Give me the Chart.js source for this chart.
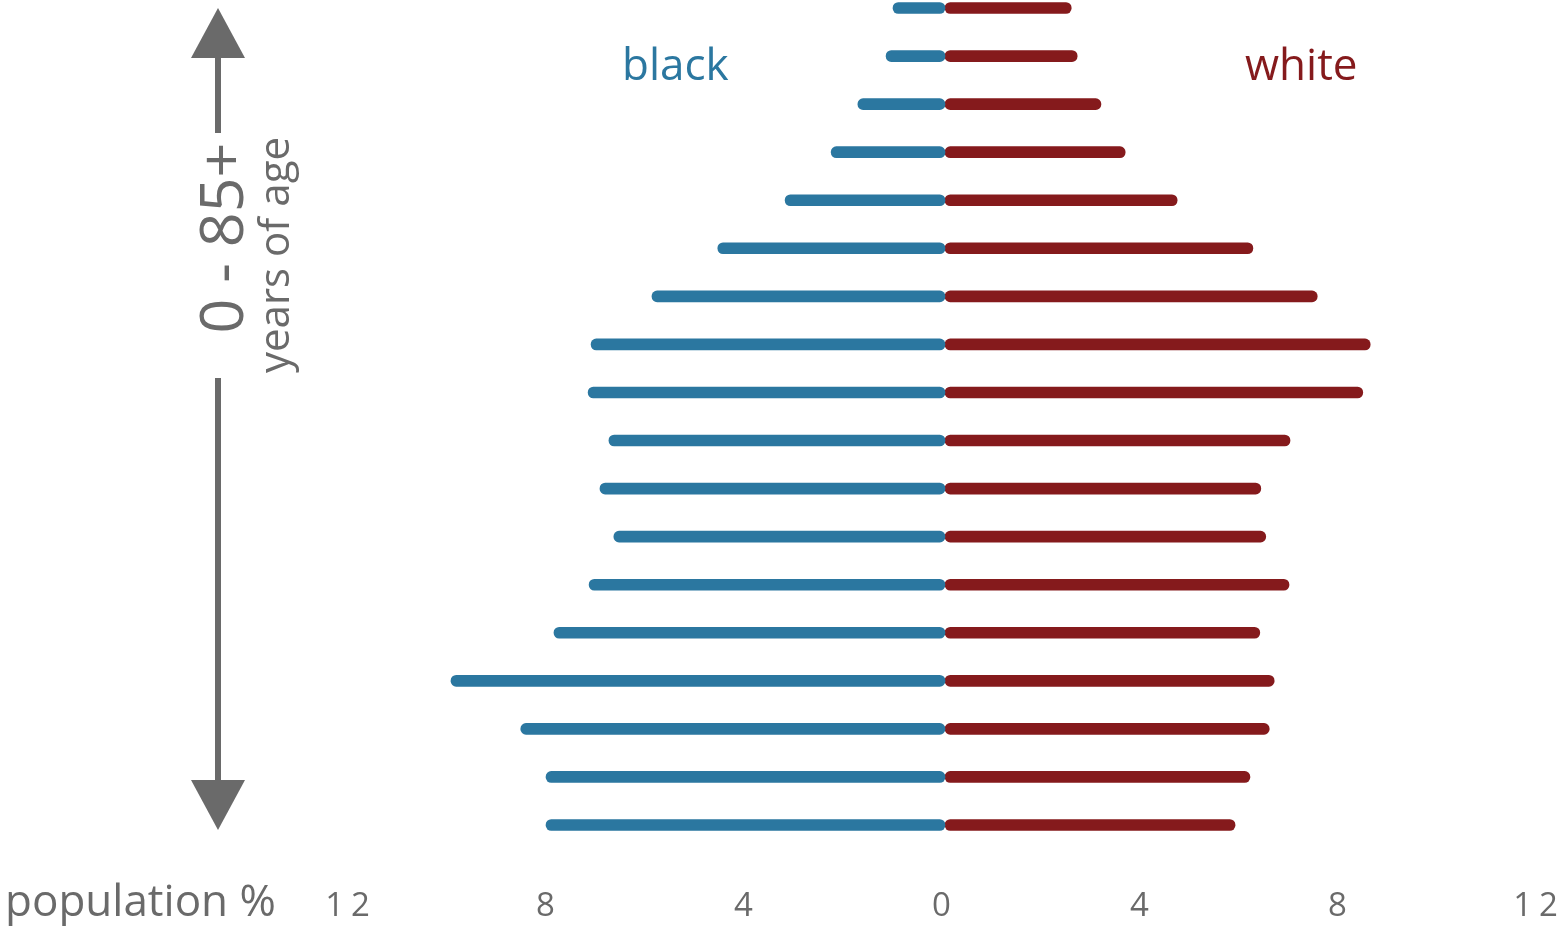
<!DOCTYPE html>
<html>
<head>
<meta charset="utf-8">
<script src="https://cdn.jsdelivr.net/npm/chart.js@4/dist/chart.umd.min.js"></script>
<style>
  html, body { margin: 0; padding: 0; background: #fff; }
  #wrap { width: 1562px; height: 926px; position: relative; }
</style>
</head>
<body>
<div id="wrap"><canvas id="c" width="1562" height="926"></canvas></div>
<script>
// Age groups, bottom (youngest) to top (oldest)
const ageGroups = ['0-4','5-9','10-14','15-19','20-24','25-29','30-34','35-39','40-44',
                   '45-49','50-54','55-59','60-64','65-69','70-74','75-79','80-84','85+'];
// population % per age group
const blackValues = [8.06, 8.06, 8.57, 9.98, 7.90, 7.19, 6.69, 6.97, 6.79,
                     7.21, 7.15, 5.92, 4.59, 3.23, 2.30, 1.76, 1.19, 1.05];
const whiteValues = [5.86, 6.16, 6.55, 6.65, 6.36, 6.95, 6.48, 6.38, 6.97,
                     8.44, 8.59, 7.52, 6.22, 4.69, 3.64, 3.15, 2.67, 2.55];
const tickValues = [-12, -8, -4, 0, 4, 8, 12];
const seriesNames = ['black', 'white'];
const axisTitle = 'population %';
const ageTitle = '0 - 85+';
const ageSubtitle = 'years of age';

const BLUE = '#2b77a0';
const RED = '#851a1c';
const GRAY = '#6a6a6a';
const FONT = '"Open Sans", "Noto Sans", sans-serif';

const spacing = {
  id: 'spacing',
  beforeDraw(chart) { chart.ctx.letterSpacing = '7px'; },
  beforeDatasetsDraw(chart) { chart.ctx.letterSpacing = '0px'; }
};

const annotations = {
  id: 'annotations',
  afterDraw(chart) {
    const ctx = chart.ctx;
    ctx.save();
    ctx.letterSpacing = '0px';
    // vertical double arrow
    ctx.strokeStyle = GRAY;
    ctx.fillStyle = GRAY;
    ctx.lineWidth = 6;
    const ax = 218;
    ctx.beginPath();
    ctx.moveTo(ax, 56); ctx.lineTo(ax, 133);
    ctx.moveTo(ax, 378); ctx.lineTo(ax, 782);
    ctx.stroke();
    ctx.beginPath();
    ctx.moveTo(ax, 8); ctx.lineTo(ax + 27, 58); ctx.lineTo(ax - 27, 58); ctx.closePath();
    ctx.fill();
    ctx.beginPath();
    ctx.moveTo(ax, 830); ctx.lineTo(ax + 27, 780); ctx.lineTo(ax - 27, 780); ctx.closePath();
    ctx.fill();

    // rotated age labels
    ctx.save();
    ctx.translate(243, 238);
    ctx.rotate(-Math.PI / 2);
    ctx.textAlign = 'center';
    ctx.textBaseline = 'alphabetic';
    ctx.font = '400 61px ' + FONT;
    ctx.fillText(ageTitle, 0, 0);
    ctx.restore();

    ctx.save();
    ctx.translate(289, 255);
    ctx.rotate(-Math.PI / 2);
    ctx.textAlign = 'center';
    ctx.textBaseline = 'alphabetic';
    ctx.font = '400 42px ' + FONT;
    ctx.fillText(ageSubtitle, 0, 0);
    ctx.restore();

    // series labels
    ctx.textBaseline = 'alphabetic';
    ctx.textAlign = 'left';
    ctx.font = '400 44px ' + FONT;
    ctx.fillStyle = BLUE;
    ctx.fillText(seriesNames[0], 622, 80);
    ctx.fillStyle = RED;
    ctx.fillText(seriesNames[1], 1245, 80);

    // axis title
    ctx.fillStyle = GRAY;
    ctx.font = '400 44px ' + FONT;
    ctx.fillText(axisTitle, 5, 916);
    ctx.restore();
  }
};

new Chart(document.getElementById('c'), {
  type: 'bar',
  data: {
    labels: ageGroups,
    datasets: [
      {
        label: seriesNames[0],
        data: blackValues.map(v => -v),
        backgroundColor: BLUE,
        borderRadius: 6,
        borderSkipped: false,
        barThickness: 11,
        clip: false
      },
      {
        label: seriesNames[1],
        data: whiteValues,
        backgroundColor: RED,
        borderRadius: 6,
        borderSkipped: false,
        barThickness: 11,
        clip: false
      }
    ]
  },
  options: {
    indexAxis: 'y',
    responsive: false,
    animation: false,
    layout: { padding: { left: 351, right: 23, top: 8, bottom: 0 } },
    plugins: { legend: { display: false }, tooltip: { enabled: false } },
    scales: {
      x: {
        stacked: true,
        min: -12, max: 12,
        afterBuildTicks(scale) { scale.ticks = tickValues.map(v => ({ value: v })); },
        afterFit(scale) {
          scale.height = 101;
          scale.paddingLeft = 0;
          scale.paddingRight = 0;
        },
        grid: { display: false, drawTicks: false },
        border: { display: false },
        ticks: {
          padding: 62,
          maxRotation: 0,
          minRotation: 0,
          color: GRAY,
          font: { family: FONT, size: 33 },
          callback: v => String(Math.abs(v))
        }
      },
      y: {
        stacked: true,
        reverse: true,
        offset: false,
        display: false,
        grid: { display: false }
      }
    }
  },
  plugins: [spacing, annotations]
});
</script>
</body>
</html>
